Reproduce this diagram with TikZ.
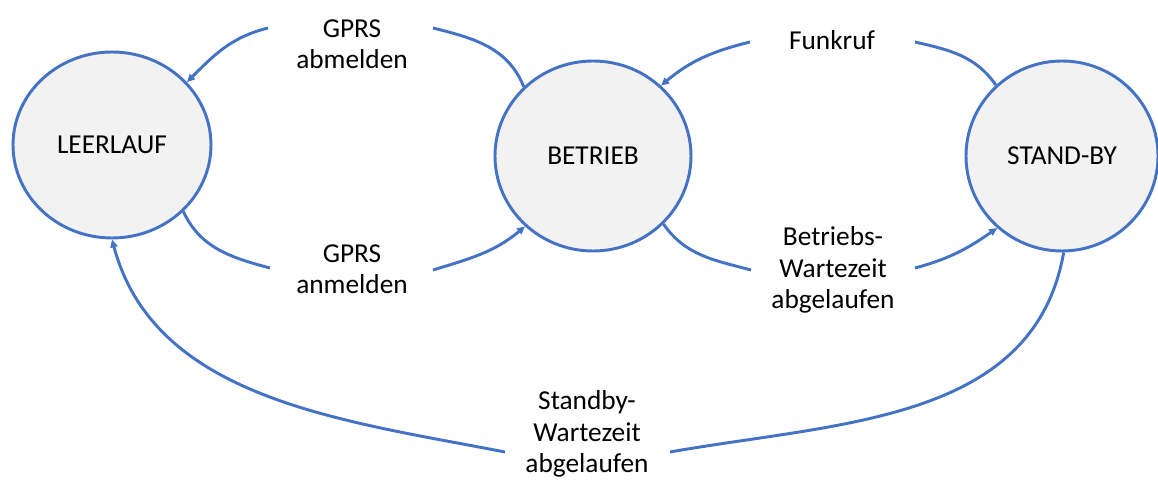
\documentclass[tikz,border=0pt]{standalone}
\usepackage{fontspec}
\setmainfont{Carlito}
\usepackage{xcolor}
\usetikzlibrary{shapes.geometric, arrows.meta, positioning}
\definecolor{lineblue}{HTML}{4472C4}
\definecolor{statefill}{HTML}{F2F2F2}
\tikzset{
    state/.style={
        ellipse,
        draw=lineblue,
        line width=2.2pt,
        fill=statefill,
        inner sep=0pt,
        font=\fontsize{20.5}{24}\selectfont
    },
    trans/.style={
        draw=lineblue,
        line width=2.2pt
    },
    transarrow/.style={
        trans,
        -{Triangle[length=6pt,width=5.5pt]}
    },
    translabel/.style={
        align=center,
        inner sep=0pt,
        font=\fontsize{20.5}{23.5}\selectfont
    }
}

\begin{document}
\begin{tikzpicture}[x=0.75pt, y=0.75pt]
\useasboundingbox (0,0) rectangle (1158,489);

% States
\node[state, minimum width=148.5pt, minimum height=139.5pt] (leerlauf) at (112,344) {LEERLAUF};
\node[state, minimum width=147pt, minimum height=142.5pt] (betrieb) at (593,333) {BETRIEB};
\node[state, minimum width=144pt, minimum height=142.5pt] (standby) at (1062,333) {STAND-BY};

% Labels
\node[translabel] (abmelden) at (352,445) {GPRS\\abmelden};
\node[translabel] (anmelden) at (352,220) {GPRS\\anmelden};
\node[translabel] (funkruf) at (832,449) {Funkruf};
\node[translabel] (betrwz) at (833,219) {Betriebs-\\Wartezeit\\abgelaufen};
\node[translabel] (standbywz) at (587,55) {Standby-\\Wartezeit\\abgelaufen};

% Free ends of the connectors beside the labels
\coordinate (abL) at (268,461);
\coordinate (abR) at (433,461);
\coordinate (anL) at (270,221);
\coordinate (anR) at (433,219);
\coordinate (fkL) at (750,447);
\coordinate (fkR) at (915,447);
\coordinate (bwL) at (751,219);
\coordinate (bwR) at (915,221);
\coordinate (sbL) at (505,37);
\coordinate (sbR) at (670,37);

% GPRS abmelden: BETRIEB -> LEERLAUF
\draw[trans] (betrieb.135) to[out=112, in=-14] (abR);
\draw[transarrow] (abL) to[out=194, in=45] (leerlauf.40);

% GPRS anmelden: LEERLAUF -> BETRIEB
\draw[trans] (leerlauf.-43) to[out=-65, in=165] (anL);
\draw[transarrow] (anR) to[out=17, in=-140] (betrieb.-134);

% Funkruf: STAND-BY -> BETRIEB
\draw[trans] (standby.133) to[out=125, in=-13] (fkR);
\draw[transarrow] (fkL) to[out=194, in=40] (betrieb.46);

% Betriebs-Wartezeit abgelaufen: BETRIEB -> STAND-BY
\draw[trans] (betrieb.-44) to[out=-55, in=165] (bwL);
\draw[transarrow] (bwR) to[out=15, in=-145] (standby.-132);

% Standby-Wartezeit abgelaufen: STAND-BY -> LEERLAUF
\draw[trans] (standby.-89) to[out=-100, in=10] (sbR);
\draw[transarrow] (sbL) to[out=169, in=-75, looseness=0.95] (leerlauf.south);

\end{tikzpicture}
\end{document}
